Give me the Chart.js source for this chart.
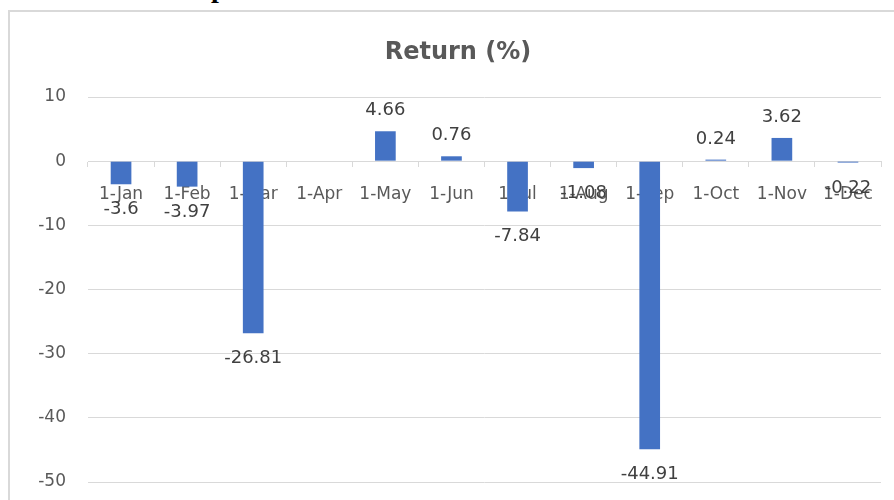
<!DOCTYPE html>
<html>
<head>
<meta charset="utf-8">
<script src="https://cdn.jsdelivr.net/npm/chart.js@4"></script>
<style>
  html, body { margin: 0; padding: 0; background: #fff; overflow: hidden; width: 894px; height: 500px; }
  #heading { position: absolute; left: 211px; top: -26px; font: bold 28px "Liberation Serif", serif; color: #000; line-height: 1; }
  #frame { position: absolute; left: 8px; top: 10px; width: 1000px; height: 600px;
           border-left: 2px solid #d9d9d9; border-top: 2px solid #d9d9d9; }
  #wrap { position: absolute; left: 0; top: 0; width: 894px; height: 500px; }
</style>
</head>
<body>
<div id="heading">p</div>
<div id="frame"></div>
<div id="wrap"><canvas id="c"></canvas></div>
<script>
// Monthly returns, in percent
const titleText = 'Return (%)';
const categories = ['1-Jan', '1-Feb', '1-Mar', '1-Apr', '1-May', '1-Jun',
                    '1-Jul', '1-Aug', '1-Sep', '1-Oct', '1-Nov', '1-Dec'];
const returns = [-3.6, -3.97, -26.81, null, 4.66, 0.76, -7.84, -1.08, -44.91, 0.24, 3.62, -0.22];
const yTicks = [10, 0, -10, -20, -30, -40, -50];

const labelFont = '"DejaVu Sans", sans-serif';

// Value labels at the outer end of each bar
const valueLabels = {
  id: 'valueLabels',
  afterDraw(chart) {
    const ctx = chart.ctx;
    const meta = chart.getDatasetMeta(0);
    ctx.save();
    ctx.font = '18px ' + labelFont;
    ctx.fillStyle = '#404040';
    ctx.textAlign = 'center';
    ctx.textBaseline = 'alphabetic';
    meta.data.forEach((bar, i) => {
      const v = returns[i];
      if (v === null || v === undefined) return;
      const y = v >= 0 ? bar.y - 16 : bar.y + 30;
      ctx.fillText(String(v), bar.x, y);
    });
    ctx.restore();
  }
};

// Chart heading
const chartTitle = {
  id: 'chartTitle',
  afterDraw(chart) {
    const ctx = chart.ctx;
    ctx.save();
    ctx.font = 'bold 24px ' + labelFont;
    ctx.fillStyle = '#595959';
    ctx.textAlign = 'center';
    ctx.textBaseline = 'alphabetic';
    ctx.fillText(titleText, 458, 59);
    ctx.restore();
  }
};

new Chart(document.getElementById('c'), {
  type: 'bar',
  data: {
    labels: categories,
    datasets: [{
      label: titleText,
      data: returns,
      backgroundColor: '#4472C4',
      borderWidth: 0,
      barPercentage: 0.313,
      categoryPercentage: 1.0
    }]
  },
  options: {
    responsive: true,
    maintainAspectRatio: false,
    animation: false,
    layout: { padding: { left: 0, right: 13, top: 97, bottom: 18 } },
    plugins: { legend: { display: false }, title: { display: false }, tooltip: { enabled: false } },
    scales: {
      x: {
        position: { y: 0 },
        z: 1,
        afterFit(scale) { scale.height = 0; },
        grid: { display: true, drawOnChartArea: false, drawTicks: true, tickLength: 5,
                color: '#d9d9d9', offset: true },
        border: { display: true, color: '#d9d9d9', width: 1 },
        ticks: { font: { family: labelFont, size: 17 }, color: '#595959', padding: 18,
                 maxRotation: 0, minRotation: 0, autoSkip: false }
      },
      y: {
        min: -50,
        max: 10,
        afterFit(scale) { scale.width = 88; },
        afterBuildTicks(scale) { scale.ticks = yTicks.map(v => ({ value: v })); },
        grid: { color: '#d9d9d9', drawTicks: true, tickLength: 22, tickColor: 'rgba(0,0,0,0)' },
        border: { display: false },
        ticks: { font: { family: labelFont, size: 17 }, color: '#595959', padding: 0 }
      }
    }
  },
  plugins: [valueLabels, chartTitle]
});
</script>
</body>
</html>
